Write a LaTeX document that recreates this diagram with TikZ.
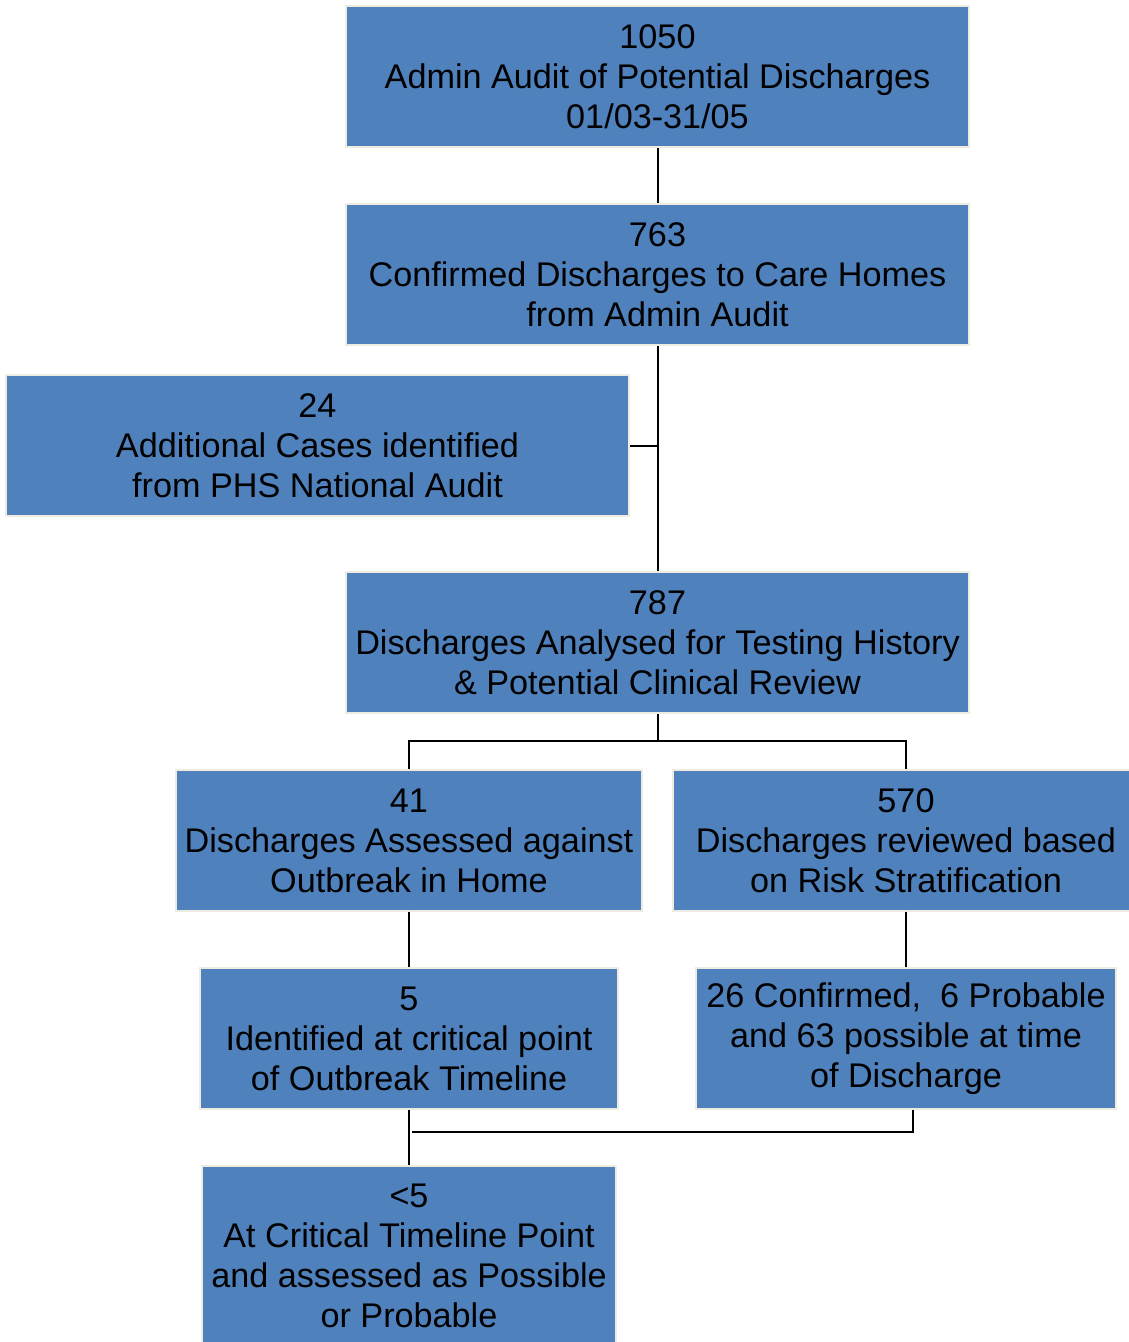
\documentclass[tikz,border=0pt]{standalone}
\usepackage{fontspec}
\setmainfont{Liberation Sans}

\definecolor{boxblue}{HTML}{4F81BD}
\definecolor{boxedge}{HTML}{EEECE1}

\tikzset{
  countbox/.style={draw=boxedge, line width=1.5pt, fill=boxblue, text=black,
    align=center, inner sep=0pt, minimum height=141,
    font=\fontsize{34.2}{40}\selectfont},
  link/.style={black, line width=2pt}
}

\begin{document}
\begin{tikzpicture}[x=1pt,y=-1pt]
    \useasboundingbox (0,0) rectangle (1128,1342);
    %\draw[very thin,color=gray] (0,0) grid[step=100] (1128,1342);

    \node[countbox, minimum width=623] (n1050) at (657.5,76.5) {1050\\Admin Audit of Potential Discharges\\01/03-31/05};
    \node[countbox, minimum width=623] (n763) at (657.5,274.5) {763\\Confirmed Discharges to Care Homes\\from Admin Audit};
    \node[countbox, minimum width=623] (n24) at (317.5,445.5) {24\\Additional Cases identified\\from PHS National Audit};
    \node[countbox, minimum width=623] (n787) at (657.5,642.5) {787\\Discharges Analysed for Testing History\\\& Potential Clinical Review};

    \node[countbox, minimum width=466] (n41) at (409,840.5) {41\\Discharges Assessed against\\Outbreak in Home};
    \node[countbox, minimum width=466] (n570) at (906,840.5) {570\\Discharges reviewed based\\on Risk Stratification};

    \node[countbox, minimum width=418] (n5) at (409,1038.5) {5\\Identified at critical point\\of Outbreak Timeline};
    \node[countbox, minimum width=420] (n26) at (906,1038.5) {26 Confirmed,~ 6 Probable\\and 63 possible at time\\of Discharge};

    \node[countbox, minimum width=414, minimum height=180] (lt5) at (409,1256) {<5\\At Critical Timeline Point\\and assessed as Possible\\or Probable};

    % connectors
    \draw[link] (n1050) -- (n763);
    \draw[link] (n763) -- (n787);
    \draw[link] (n24.east) -- (n24.east -| n763.south);

    \coordinate (split) at (657.5,741);
    \draw[link] (n787.south) -- (split);
    \draw[link] (n41.north) |- (split) -| (n570.north);

    \draw[link] (n41) -- (n5);
    \draw[link] (n570) -- (n26);
    \draw[link] (n5) -- (lt5);

    \coordinate (join) at (412,1132);
    \draw[link] ([xshift=7]n26.south) |- (join);

\end{tikzpicture}
\end{document}
